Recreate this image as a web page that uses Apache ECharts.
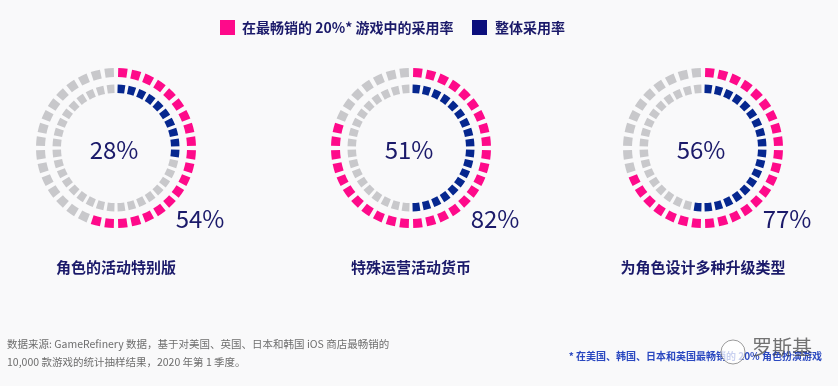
<!DOCTYPE html>
<html><head><meta charset="utf-8">
<script src="https://cdn.jsdelivr.net/npm/echarts@6/dist/echarts.min.js"></script>
<style>html,body{margin:0;padding:0;background:#f9f9fa}#c{width:838px;height:386px}</style>
</head><body><div id="c"></div>
<script>
// ---- data ----
const categories = ['角色的活动特别版', '特殊运营活动货币', '为角色设计多种升级类型'];
const top20Rates = [54, 82, 77];   // 在最畅销的 20%* 游戏中的采用率 (outer ring label)
const overallRates = [28, 51, 56]; // 整体采用率 (inner ring label)
const segmentCount = 36;           // squares per ring, as drawn
const top20Segments = [20, 29, 25];   // coloured squares in outer ring, as drawn in the picture
const overallSegments = [10, 18, 19]; // coloured squares in inner ring, as drawn in the picture
const legendNames = ['在最畅销的 20%* 游戏中的采用率', '整体采用率'];
const sourceLines = ['数据来源: GameRefinery 数据，基于对美国、英国、日本和韩国 iOS 商店最畅销的',
                     '10,000 款游戏的统计抽样结果，2020 年第 1 季度。'];
const footnote = '* 在美国、韩国、日本和英国最畅销的 20% 角色扮演游戏';

// ---- style / layout ----
const PINK = '#fe0a8a', NAVY = '#06278f', GRAY = '#c8c8cb', TXT = '#1b1a6a';
const FONT = '"Noto Sans CJK SC", "Noto Sans", sans-serif';
const centersX = [116, 411, 703], centerY = 148;

const chart = echarts.init(document.getElementById('c'), null, {renderer: 'canvas'});

function ring(cx, filled, radius, color, pad) {
  const data = [];
  for (let i = 0; i < segmentCount; i++) {
    data.push({value: 1, itemStyle: {color: i < filled ? color : GRAY}});
  }
  return {
    type: 'pie', center: [cx, centerY], radius: radius, startAngle: 90, clockwise: true,
    padAngle: pad, silent: true, animation: false, label: {show: false}, labelLine: {show: false},
    itemStyle: {borderWidth: 0}, emphasis: {disabled: true}, data: data
  };
}

const series = [];
const graphic = [];
categories.forEach((cat, k) => {
  const cx = centersX[k];
  series.push(ring(cx, top20Segments[k], [71, 80], PINK, 3.2));
  series.push(ring(cx, overallSegments[k], [55, 63.5], NAVY, 3.0));
  graphic.push({type: 'text', x: cx - 2, y: centerY + 2, style: {text: overallRates[k] + '%', font: '24px ' + FONT, fill: TXT, textAlign: 'center', textVerticalAlign: 'middle'}});
  graphic.push({type: 'text', x: cx + 84, y: centerY + 71, style: {text: top20Rates[k] + '%', font: '24px ' + FONT, fill: TXT, textAlign: 'center', textVerticalAlign: 'middle'}});
  graphic.push({type: 'text', x: cx, y: 267, style: {text: cat, font: 'bold 15px ' + FONT, fill: TXT, textAlign: 'center', textVerticalAlign: 'middle'}});
});

// legend
graphic.push({type: 'rect', shape: {x: 220, y: 20, width: 15, height: 15}, style: {fill: PINK}});
graphic.push({type: 'text', x: 242, y: 28, style: {text: legendNames[0], font: 'bold 14px ' + FONT, fill: TXT, textVerticalAlign: 'middle'}});
graphic.push({type: 'rect', shape: {x: 472, y: 20, width: 15, height: 15}, style: {fill: '#0c0f7c'}});
graphic.push({type: 'text', x: 495, y: 28, style: {text: legendNames[1], font: 'bold 14px ' + FONT, fill: TXT, textVerticalAlign: 'middle'}});

// source
graphic.push({type: 'text', x: 7, y: 344, style: {text: sourceLines[0], font: '10.5px ' + FONT, fill: '#6e6e6e', textVerticalAlign: 'middle'}});
graphic.push({type: 'text', x: 7, y: 362, style: {text: sourceLines[1], font: '10.5px ' + FONT, fill: '#6e6e6e', textVerticalAlign: 'middle'}});
graphic.push({type: 'text', x: 822, y: 356, style: {text: footnote, font: 'bold 10px ' + FONT, fill: '#2a48c0', textAlign: 'right', textVerticalAlign: 'middle'}});
// watermark
graphic.push({type: 'circle', shape: {cx: 733, cy: 352, r: 12}, style: {fill: 'rgba(255,255,255,0.75)', stroke: 'rgba(90,90,90,0.6)', lineWidth: 1}});
graphic.push({type: 'text', x: 752, y: 347, style: {text: '罗斯基', font: '20px ' + FONT, fill: 'rgba(70,70,70,0.75)', textVerticalAlign: 'middle'}});

chart.setOption({backgroundColor: '#f9f9fa', animation: false, series: series, graphic: graphic});
</script></body></html>
